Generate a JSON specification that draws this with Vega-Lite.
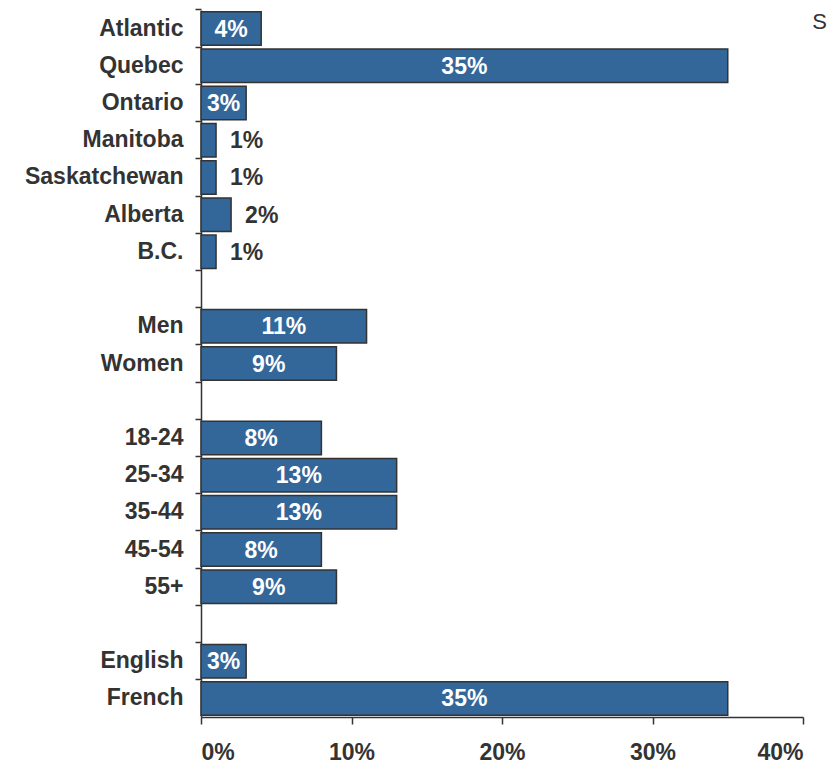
{
  "$schema": "https://vega.github.io/schema/vega-lite/v6.json",
  "width": 602,
  "height": 707,
  "autosize": {"type": "none"},
  "padding": {"left": 201, "top": 10, "right": 25, "bottom": 48},
  "background": "white",
  "title": {"text": "S", "anchor": "end", "orient": "top", "frame": "group", "offset": 0, "dx": 24, "dy": 26, "fontSize": 22, "font": "Liberation Sans", "fontWeight": "normal", "color": "#333"},
  "config": {
    "view": {"stroke": null},
    "axis": {
      "domainColor": "#333",
      "domainWidth": 1.5,
      "tickColor": "#333",
      "tickWidth": 1.5,
      "labelFont": "Liberation Sans",
      "labelFontWeight": "bold",
      "labelColor": "#333",
      "grid": false
    }
  },
  "data": {
    "values": [
      {"cat": "Atlantic", "pct": 4, "lbl": "4%"},
      {"cat": "Quebec", "pct": 35, "lbl": "35%"},
      {"cat": "Ontario", "pct": 3, "lbl": "3%"},
      {"cat": "Manitoba", "pct": 1, "lbl": "1%"},
      {"cat": "Saskatchewan", "pct": 1, "lbl": "1%"},
      {"cat": "Alberta", "pct": 2, "lbl": "2%"},
      {"cat": "B.C.", "pct": 1, "lbl": "1%"},
      {"cat": "Men", "pct": 11, "lbl": "11%"},
      {"cat": "Women", "pct": 9, "lbl": "9%"},
      {"cat": "18-24", "pct": 8, "lbl": "8%"},
      {"cat": "25-34", "pct": 13, "lbl": "13%"},
      {"cat": "35-44", "pct": 13, "lbl": "13%"},
      {"cat": "45-54", "pct": 8, "lbl": "8%"},
      {"cat": "55+", "pct": 9, "lbl": "9%"},
      {"cat": "English", "pct": 3, "lbl": "3%"},
      {"cat": "French", "pct": 35, "lbl": "35%"}
    ]
  },
  "encoding": {
    "y": {
      "field": "cat",
      "type": "nominal",
      "title": null,
      "scale": {
        "domain": ["Atlantic", "Quebec", "Ontario", "Manitoba", "Saskatchewan", "Alberta", "B.C.", "gap1", "Men", "Women", "gap2", "18-24", "25-34", "35-44", "45-54", "55+", "gap3", "English", "French"],
        "paddingInner": 0.1,
        "paddingOuter": 0.05
      },
      "axis": {
        "bandPosition": -0.0556,
        "tickSize": 6,
        "labelPadding": 12,
        "labelFontSize": 23,
        "labelExpr": "indexof(datum.value, 'gap') == 0 ? '' : datum.value"
      }
    }
  },
  "layer": [
    {
      "mark": {"type": "bar", "fill": "#336699", "stroke": "#333333", "strokeWidth": 1.5},
      "encoding": {
        "x": {
          "field": "pct",
          "type": "quantitative",
          "title": null,
          "scale": {"domain": [0, 40], "nice": false},
          "axis": {
            "values": [0, 10, 20, 30, 40],
            "tickSize": 7,
            "labelPadding": 17,
            "labelFontSize": 23,
            "labelExpr": "datum.value + '%'"
          }
        }
      }
    },
    {
      "transform": [{"filter": "datum.pct >= 3"}],
      "mark": {"type": "text", "color": "white", "font": "Liberation Sans", "fontWeight": "bold", "fontSize": 23, "align": "center", "baseline": "middle", "dy": 1},
      "encoding": {
        "x": {"field": "pct", "type": "quantitative", "scale": {"domain": [0, 40], "range": [0, 301], "nice": false}, "axis": null},
        "text": {"field": "lbl"}
      }
    },
    {
      "transform": [{"filter": "datum.pct < 3"}],
      "mark": {"type": "text", "color": "#333", "font": "Liberation Sans", "fontWeight": "bold", "fontSize": 23, "align": "left", "baseline": "middle", "dx": 14, "dy": 1},
      "encoding": {
        "x": {"field": "pct", "type": "quantitative", "scale": {"domain": [0, 40], "nice": false}, "axis": null},
        "text": {"field": "lbl"}
      }
    }
  ],
  "resolve": {"scale": {"x": "independent"}}
}
